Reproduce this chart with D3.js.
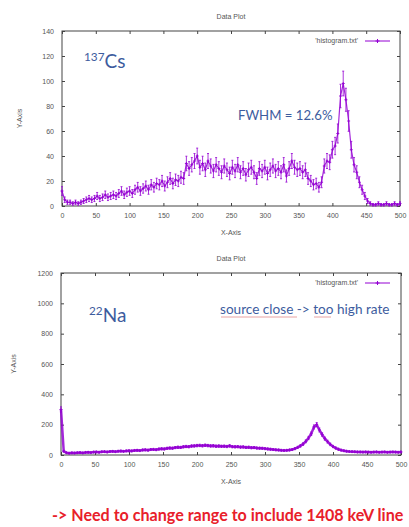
<!DOCTYPE html>
<html><head><meta charset="utf-8">
<script src="https://cdn.jsdelivr.net/npm/d3@7"></script>
<style>
body{margin:0;background:#fff}
svg{display:block}
</style></head><body>
<script>
// ---- data ----
const binStep = 4;
const csBins = d3.range(0, 501, binStep);
const csCounts = [12,5,3,3,2,3,2,3,4,5,6,5,6,8,6,7,9,7,8,9,8,10,12,9,11,
  12,10,13,15,12,14,16,13,17,15,18,17,20,16,19,22,18,21,20,23,22,34,30,33,36,
  40,31,34,29,36,32,28,33,30,27,32,29,26,31,28,33,27,30,25,29,31,27,22,30,28,
  31,26,29,32,28,30,27,33,24,30,36,31,29,30,27,29,22,20,17,18,15,19,32,36,35,
  45,48,58,88,98,85,68,45,33,27,19,13,8,4,2,1,1,2,1,1,2,1,1,2,1,2];
const naBins = d3.range(0, 501, binStep);
const naCounts = [300,25,15,12,14,13,15,16,14,17,18,16,19,20,18,21,22,20,23,24,22,25,26,24,27,
  28,27,30,31,29,33,34,32,36,37,35,39,41,40,44,46,45,49,51,50,54,56,55,59,60,
  62,63,61,64,62,60,61,58,59,57,58,56,60,55,54,55,52,53,50,51,48,49,46,45,44,
  42,40,38,36,34,33,31,30,31,33,36,42,50,60,72,90,112,140,185,200,165,135,108,88,70,
  56,46,38,32,28,25,23,22,21,20,20,19,20,19,18,19,20,18,19,20,18,19,20,19,18,20];
const xTicks = [0,50,100,150,200,250,300,350,400,450,500];
const csYTicks = [0,20,40,60,80,100,120,140];
const naYTicks = [0,200,400,600,800,1000,1200];

const W = 409, H = 527;
const svg = d3.select("body").append("svg").attr("width", W).attr("height", H);
const purple = "#9400d3";
const txtGray = "#555";
const gpFont = '"Liberation Sans", Arial, sans-serif';
const ppFont = 'Lato, "Open Sans", sans-serif';

function panel(cfg){
  const g = svg.append("g");
  const x = d3.scaleLinear().domain([0,500]).range([cfg.l, cfg.r]);
  const y = d3.scaleLinear().domain([0, cfg.ymax]).range([cfg.b, cfg.t]);
  g.append("rect").attr("x", cfg.l).attr("y", cfg.t).attr("width", cfg.r-cfg.l).attr("height", cfg.b-cfg.t)
    .attr("fill","none").attr("stroke","#444").attr("stroke-width",1);
  const ax = (a, tr) => { const gg = g.append("g").attr("transform", tr).call(a);
    gg.select(".domain").remove(); gg.selectAll("line").attr("stroke","#444");
    gg.selectAll("text").style("font-family", gpFont).attr("font-size",7).attr("fill",txtGray); return gg; };
  ax(d3.axisBottom(x).tickValues(xTicks).tickSize(-3).tickPadding(7).tickFormat(d3.format("d")), `translate(0,${cfg.b})`);
  ax(d3.axisTop(x).tickValues(xTicks).tickSize(-3), `translate(0,${cfg.t})`).selectAll("text").remove();
  ax(d3.axisLeft(y).tickValues(cfg.yTicks).tickSize(-3).tickPadding(8).tickFormat(d3.format("d")), `translate(${cfg.l},0)`);
  ax(d3.axisRight(y).tickValues(cfg.yTicks).tickSize(-3), `translate(${cfg.r},0)`).selectAll("text").remove();
  const lab = (sel) => sel.style("font-family", gpFont).attr("font-size",7).attr("fill",txtGray);
  lab(g.append("text").attr("x",(cfg.l+cfg.r)/2).attr("y",cfg.t-12).attr("text-anchor","middle").text("Data Plot"));
  lab(g.append("text").attr("x",(cfg.l+cfg.r)/2).attr("y",cfg.b+29).attr("text-anchor","middle").text("X-Axis"));
  lab(g.append("text").attr("transform",`translate(${cfg.ylx},${(cfg.t+cfg.b)/2}) rotate(-90)`)
    .attr("text-anchor","middle").text("Y-Axis"));
  lab(g.append("text").attr("x",358).attr("y",cfg.t+12).attr("text-anchor","end").text("'histogram.txt'"));
  g.append("line").attr("x1",365).attr("x2",390).attr("y1",cfg.t+10).attr("y2",cfg.t+10)
    .attr("stroke",purple).attr("stroke-width",1);
  g.append("path").attr("d",`M377.5,${cfg.t+8}V${cfg.t+12}M375.5,${cfg.t+10}H379.5`).attr("stroke",purple);
  const pts = cfg.bins.map((b,i)=>({b, v: cfg.vals[i]}));
  const dg = g.append("g").attr("stroke", purple).attr("fill","none");
  dg.append("path").datum(pts).attr("d", d3.line().x(d=>x(d.b)).y(d=>y(d.v)))
    .attr("stroke-width", cfg.lw).attr("stroke-opacity",0.85);
  dg.selectAll("path.eb").data(pts).join("path").attr("class","eb")
    .attr("stroke-width",0.8)
    .attr("d", d => { const e = Math.sqrt(d.v), xx = x(d.b);
      const y1 = y(Math.max(0,d.v-e)), y2 = y(d.v+e);
      return `M${xx},${y1}V${y2}M${xx-1},${y1}H${xx+1}M${xx-1},${y2}H${xx+1}`; });
  dg.selectAll("path.mk").data(pts).join("path").attr("class","mk")
    .attr("stroke-width",0.9)
    .attr("d", d => { const xx=x(d.b), yy=y(d.v); return `M${xx-1.5},${yy}H${xx+1.5}M${xx},${yy-1.5}V${yy+1.5}`; });
  return {x, y};
}

panel({l:62, r:400, t:31, b:206, ymax:140, yTicks:csYTicks, bins:csBins, vals:csCounts, ylx:22, lw:1.2});
panel({l:61, r:401, t:273, b:455, ymax:1200, yTicks:naYTicks, bins:naBins, vals:naCounts, ylx:16, lw:2.5});

const blue = "#3d5c9e";
const ann = (xx, yy, main, sup, fs) => {
  const t = svg.append("text").attr("x",xx).attr("y",yy).attr("fill",blue)
    .style("font-family", ppFont).attr("font-size",fs);
  t.append("tspan").attr("font-size",fs*0.62).attr("dy",-fs*0.35).text(sup);
  t.append("tspan").attr("dy",fs*0.35).text(main);
};
ann(84, 68, "Cs", "137", 19);
ann(89, 322, "Na", "22", 19);
svg.append("text").attr("x",238).attr("y",120).attr("fill",blue)
  .style("font-family", ppFont).attr("font-size",13.2).text("FWHM = 12.6%");
svg.append("text").attr("x",220).attr("y",314).attr("fill",blue)
  .style("font-family", ppFont).attr("font-size",13.6).text("source close -> too high rate");
// proofing underlines from the original slide
svg.append("path").attr("d","M221,317H297M314,317H331").attr("stroke","#d04040").attr("stroke-width",0.8).attr("opacity",0.6);
svg.append("text").attr("x",52).attr("y",521).attr("fill","#e8202a").attr("font-weight","bold")
  .style("font-family", ppFont).attr("font-size",16.1)
  .text("-> Need to change range to include 1408 keV line");
</script>
</body></html>
